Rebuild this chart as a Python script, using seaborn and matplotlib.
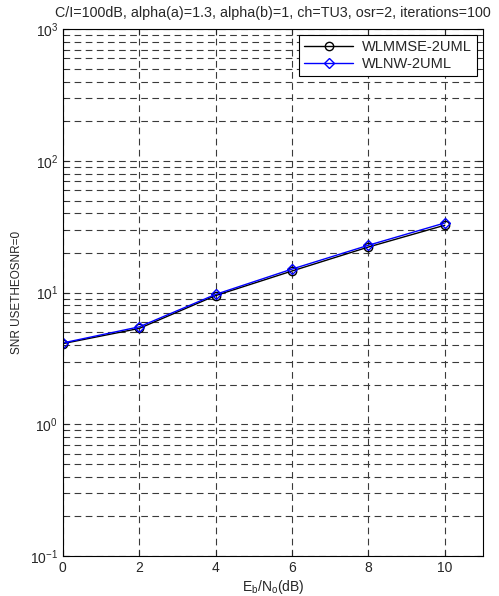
import numpy as np
import pandas as pd
import matplotlib
matplotlib.use("Agg")
import matplotlib.pyplot as plt
import seaborn as sns
from matplotlib.ticker import LogLocator, NullFormatter

ebno = [0, 2, 4, 6, 8, 10]
wlmmse = [4.1, 5.35, 9.5, 14.6, 22.2, 32.5]
wlnw = [4.15, 5.5, 9.7, 15.1, 22.9, 33.8]
series_names = ["WLMMSE-2UML", "WLNW-2UML"]
xticks = [0, 2, 4, 6, 8, 10]

sns.set_style("ticks")
plt.rcParams['font.family'] = ['Liberation Sans', 'DejaVu Sans']
plt.rcParams['mathtext.fontset'] = 'custom'
plt.rcParams['mathtext.rm'] = 'Liberation Sans'
plt.rcParams['mathtext.it'] = 'Liberation Sans'

fig = plt.figure(figsize=(4.99, 5.96), dpi=100)
ax = fig.add_axes([0.126, 0.067, 0.842, 0.884])

for name, vals, color, marker, ms in [
        (series_names[0], wlmmse, "black", "o", 6),
        (series_names[1], wlnw, "blue", "D", 5.5)]:
    d = pd.DataFrame({"x": ebno, "y": vals})
    sns.lineplot(data=d, x="x", y="y", color=color, marker=marker,
                 markerfacecolor="none", markeredgecolor=color, markersize=ms,
                 markeredgewidth=1.0, linewidth=1.0, ax=ax, label=name,
                 legend=False)

ax.set_yscale("log")
ax.set_xlim(0, 11)
ax.set_ylim(0.1, 1000)
ax.set_xticks(xticks)
ax.set_xticklabels([str(t) for t in xticks])
ax.yaxis.set_major_locator(LogLocator(base=10, numticks=10))
ax.yaxis.set_minor_locator(LogLocator(base=10, subs=np.arange(2, 10), numticks=20))
ax.yaxis.set_minor_formatter(NullFormatter())
ax.tick_params(axis='both', which='both', direction='in', top=True, right=True, labelsize=10)
ax.tick_params(which='major', length=4)
ax.tick_params(which='minor', length=2)

gkw = dict(color='#3a3a3a', linestyle=(0, (6, 4)), linewidth=0.8)
ax.grid(True, which='major', axis='both', **gkw)
ax.grid(True, which='minor', axis='y', **gkw)

for sp in ax.spines.values():
    sp.set_linewidth(0.8)
    sp.set_color('black')

ax.set_title("C/I=100dB, alpha(a)=1.3, alpha(b)=1, ch=TU3, osr=2, iterations=100",
             fontsize=10.3, pad=9)
ax.set_xlabel(r"E$_\mathregular{b}$/N$_\mathregular{o}$(dB)", fontsize=10, labelpad=2)
ax.set_ylabel("SNR USETHEOSNR=0", fontsize=8.5, labelpad=5)

leg = ax.legend(loc='upper right', fontsize=10.5, fancybox=False,
                edgecolor='black', framealpha=1, borderaxespad=0.4,
                handlelength=3.4, borderpad=0.35, labelspacing=0.2,
                handletextpad=0.6)
leg.get_frame().set_linewidth(0.8)

fig.savefig("out.png", dpi=100)
